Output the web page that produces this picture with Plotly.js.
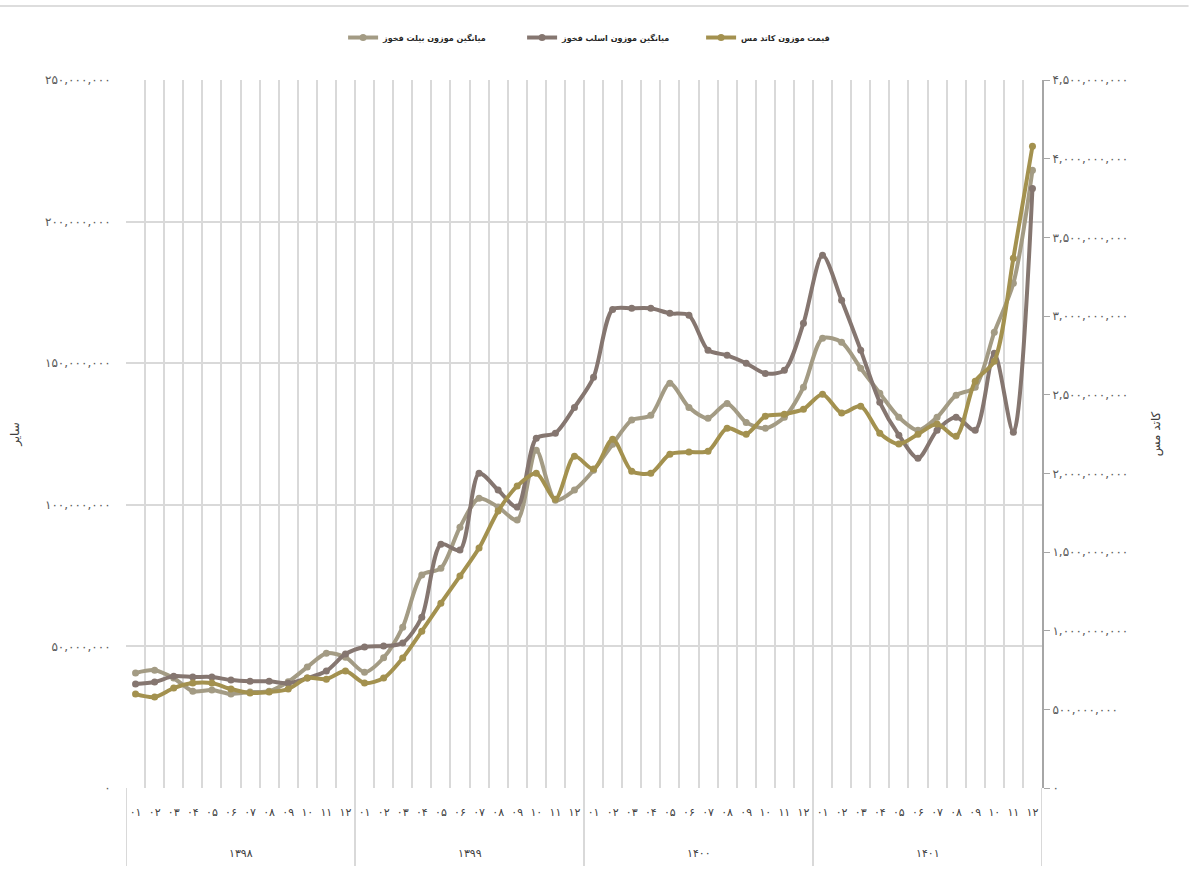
<!DOCTYPE html>
<html>
<head>
<meta charset="utf-8">
<script src="https://cdn.plot.ly/plotly-3.0.1.min.js"></script>
<style>html,body{margin:0;padding:0;background:#fff;}#chart{width:1192px;height:870px;}</style>
</head>
<body>
<div id="chart"></div>
<script>
// Categories
const years = ['۱۳۹۸', '۱۳۹۹', '۱۴۰۰', '۱۴۰۱'];
const months = ['۰۱', '۰۲', '۰۳', '۰۴', '۰۵', '۰۶', '۰۷', '۰۸', '۰۹', '۱۰', '۱۱', '۱۲'];

// Series names
const nameBillet = 'میانگین موزون بیلت فخوز';
const nameSlab = 'میانگین موزون اسلب فخوز';
const nameCopper = 'قیمت موزون کاتد مس';

// Billet (left axis, rial)
const billet = [
  40.6e6, 41.6e6, 38.8e6, 34.2e6, 34.6e6, 33.2e6, 33.9e6, 34.2e6, 37.5e6, 42.7e6, 47.6e6, 46.2e6,
  40.9e6, 46.0e6, 56.8e6, 75.2e6, 77.6e6, 92.1e6, 102.3e6, 99.2e6, 94.6e6, 119.3e6, 101.6e6, 105.2e6,
  112.2e6, 121.4e6, 129.9e6, 131.6e6, 142.9e6, 134.4e6, 130.6e6, 135.8e6, 129.1e6, 127.0e6, 130.9e6, 141.5e6,
  158.8e6, 157.4e6, 148.2e6, 139.4e6, 130.9e6, 126.3e6, 130.9e6, 138.7e6, 141.5e6, 160.9e6, 178.2e6, 218.1e6
];

// Slab (left axis, rial)
const slab = [
  36.7e6, 37.4e6, 39.5e6, 39.2e6, 39.2e6, 38.1e6, 37.7e6, 37.7e6, 37.0e6, 38.8e6, 41.3e6, 47.3e6,
  49.8e6, 50.1e6, 51.2e6, 60.3e6, 86.1e6, 84.0e6, 111.1e6, 105.2e6, 99.2e6, 123.5e6, 125.3e6, 134.4e6,
  145.0e6, 169.0e6, 169.4e6, 169.4e6, 167.6e6, 166.9e6, 154.6e6, 152.8e6, 150.0e6, 146.4e6, 147.5e6, 164.1e6,
  188.1e6, 172.2e6, 154.6e6, 136.2e6, 124.6e6, 116.4e6, 126.3e6, 130.9e6, 126.3e6, 153.5e6, 125.6e6, 211.7e6
];

// Copper cathode (right axis, rial)
const copper = [
  0.597e9, 0.578e9, 0.635e9, 0.667e9, 0.667e9, 0.629e9, 0.604e9, 0.610e9, 0.629e9, 0.699e9, 0.692e9, 0.743e9,
  0.667e9, 0.699e9, 0.826e9, 0.997e9, 1.175e9, 1.347e9, 1.525e9, 1.760e9, 1.919e9, 2.000e9, 1.836e9, 2.109e9,
  2.027e9, 2.217e9, 2.014e9, 2.001e9, 2.122e9, 2.135e9, 2.141e9, 2.287e9, 2.249e9, 2.363e9, 2.376e9, 2.408e9,
  2.503e9, 2.383e9, 2.427e9, 2.255e9, 2.186e9, 2.249e9, 2.313e9, 2.236e9, 2.586e9, 2.713e9, 3.367e9, 4.079e9
];

// Tick values / labels
const leftTickVals = [0, 50e6, 100e6, 150e6, 200e6, 250e6];
const leftTickText = ['۰', '۵۰,۰۰۰,۰۰۰', '۱۰۰,۰۰۰,۰۰۰', '۱۵۰,۰۰۰,۰۰۰', '۲۰۰,۰۰۰,۰۰۰', '۲۵۰,۰۰۰,۰۰۰'];
const rightTickVals = [0, 0.5e9, 1e9, 1.5e9, 2e9, 2.5e9, 3e9, 3.5e9, 4e9, 4.5e9];
const rightTickText = ['۰', '۵۰۰,۰۰۰,۰۰۰', '۱,۰۰۰,۰۰۰,۰۰۰', '۱,۵۰۰,۰۰۰,۰۰۰', '۲,۰۰۰,۰۰۰,۰۰۰', '۲,۵۰۰,۰۰۰,۰۰۰', '۳,۰۰۰,۰۰۰,۰۰۰', '۳,۵۰۰,۰۰۰,۰۰۰', '۴,۰۰۰,۰۰۰,۰۰۰', '۴,۵۰۰,۰۰۰,۰۰۰'];
const leftTitle = 'سایر';
const rightTitle = 'کاتد مس';

// Build category keys (year-month) and month tick labels
const xKeys = [], xMonthText = [];
years.forEach(y => months.forEach(m => { xKeys.push(y + '-' + m); xMonthText.push(m); }));

const FONT = 'DejaVu Sans, sans-serif';
const cBillet = '#a39b84', cSlab = '#857670', cCopper = '#a3914f';

function tr(name, y, color, axis) {
  return {
    type: 'scatter', mode: 'lines+markers', name: name, x: xKeys, y: y, yaxis: axis,
    line: {color: color, width: 4, shape: 'spline', smoothing: 0.8},
    marker: {color: color, size: 7},
    hoverinfo: 'skip'
  };
}

const data = [
  tr(nameBillet, billet, cBillet, 'y'),
  tr(nameSlab, slab, cSlab, 'y'),
  tr(nameCopper, copper, cCopper, 'y2')
];

// Year group labels and dividers below the axis
const nM = months.length;
const annotations = years.map((y, i) => ({
  xref: 'x', yref: 'paper', x: i * nM + (nM - 1) / 2, y: -0.092, yanchor: 'middle',
  text: y, showarrow: false, font: {family: FONT, size: 11, color: '#404040'}
}));
const shapes = [];
for (let i = 0; i <= years.length; i++) {
  shapes.push({type: 'line', xref: 'x', yref: 'paper', x0: i * nM - 0.5, x1: i * nM - 0.5,
    y0: 0, y1: -0.11, line: {color: '#d9d9d9', width: 2}});
}
shapes.push({type: 'line', xref: 'paper', yref: 'paper', x0: -0.14, x1: 1.16, y0: 1.1045, y1: 1.1045,
  line: {color: '#dddddd', width: 2}});

const layout = {
  width: 1192, height: 870,
  margin: {l: 126, r: 150, t: 80, b: 82, autoexpand: false},
  paper_bgcolor: '#ffffff', plot_bgcolor: '#ffffff',
  font: {family: FONT, size: 11, color: '#595959'},
  showlegend: true,
  legend: {orientation: 'h', x: 0.237, xanchor: 'left', y: 1.06, yanchor: 'middle',
           bgcolor: 'rgba(0,0,0,0)', entrywidth: 134, entrywidthmode: 'pixels',
           font: {family: FONT, size: 8, color: '#262626', weight: 'bold'}},
  xaxis: {
    type: 'category', tickson: 'boundaries', range: [-0.5, xKeys.length - 0.5], autorange: false,
    tickvals: xKeys, ticktext: xMonthText,
    showgrid: true, gridcolor: '#d9d9d9', gridwidth: 2,
    showline: false, zeroline: false, ticks: '', ticklabelstandoff: 16, tickangle: 0,
    tickfont: {family: FONT, size: 11, color: '#404040'},
    fixedrange: true
  },
  yaxis: {
    range: [0, 250e6], tickvals: leftTickVals, ticktext: leftTickText,
    showgrid: true, gridcolor: '#d9d9d9', gridwidth: 2, zeroline: false, showline: false,
    ticks: 'outside', ticklen: 12, tickcolor: 'rgba(0,0,0,0)',
    tickfont: {family: FONT, size: 12, color: '#595959'},
    title: {text: leftTitle, font: {family: FONT, size: 12, color: '#404040'}, standoff: 22}
  },
  yaxis2: {
    overlaying: 'y', side: 'right', range: [0, 4.5e9],
    tickvals: rightTickVals, ticktext: rightTickText,
    showgrid: false, zeroline: false, showline: true, linecolor: '#a6a6a6', linewidth: 2,
    ticks: 'outside', ticklen: 6, tickcolor: '#a6a6a6', tickwidth: 1,
    tickfont: {family: FONT, size: 12, color: '#595959'},
    title: {text: rightTitle, font: {family: FONT, size: 12, color: '#404040'}, standoff: 24}
  },
  annotations: annotations,
  shapes: shapes
};

Plotly.newPlot('chart', data, layout, {displayModeBar: false, staticPlot: true});
</script>
</body>
</html>
